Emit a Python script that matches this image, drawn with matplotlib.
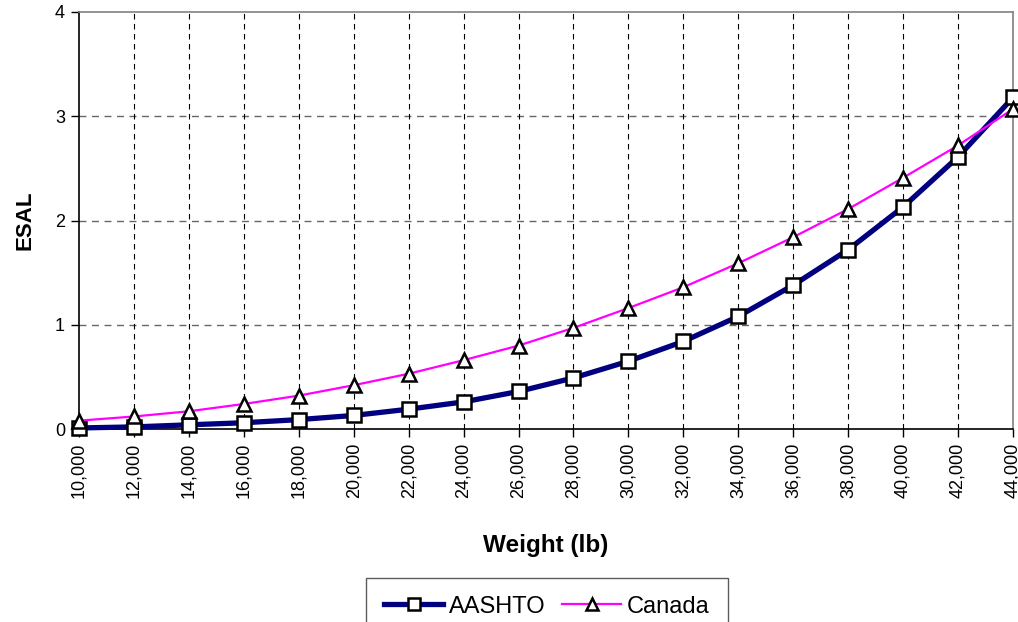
import matplotlib
matplotlib.use("Agg")
import matplotlib.pyplot as plt
from matplotlib.ticker import FuncFormatter, MultipleLocator

plt.rcParams['font.family'] = ['Liberation Sans', 'DejaVu Sans']

weights = [10000, 12000, 14000, 16000, 18000, 20000, 22000, 24000, 26000,
           28000, 30000, 32000, 34000, 36000, 38000, 40000, 42000, 44000]
aashto = [0.01, 0.02, 0.04, 0.06, 0.09, 0.13, 0.19, 0.26, 0.36,
          0.49, 0.65, 0.84, 1.08, 1.38, 1.72, 2.13, 2.61, 3.18]
canada = [0.08, 0.12, 0.17, 0.24, 0.32, 0.42, 0.53, 0.66, 0.80,
          0.97, 1.16, 1.36, 1.59, 1.84, 2.11, 2.41, 2.72, 3.07]

fig = plt.figure(figsize=(10.18, 6.22), dpi=100)
ax = fig.add_axes([79/1018, 1-429/622, (1013-79)/1018, (429-12)/622])

ax.plot(weights, aashto, color='#000080', lw=3.8, marker='s', ms=10,
        mfc='white', mec='black', mew=1.8, label='AASHTO', zorder=3, clip_on=False)
ax.plot(weights, canada, color='#FF00FF', lw=1.6, marker='^', ms=10,
        mfc='white', mec='black', mew=1.8, label='Canada', zorder=4, clip_on=False)

ax.set_xlim(10000, 44000)
ax.set_ylim(0, 4)
ax.xaxis.set_major_locator(MultipleLocator(2000))
ax.yaxis.set_major_locator(MultipleLocator(1))
ax.xaxis.set_major_formatter(FuncFormatter(lambda v, p: f"{int(round(v)):,}"))
ax.tick_params(axis='x', labelrotation=90, labelsize=13, length=6, width=1, direction='out', pad=4)
ax.tick_params(axis='y', labelsize=13, length=6, width=1, direction='out', pad=4)

for y in [1, 2, 3]:
    ax.axhline(y, color='#666666', lw=1, ls=(0, (5, 4)), zorder=1)
for x in weights[1:-1]:
    ax.axvline(x, color='black', lw=0.8, ls=(0, (5, 4)), zorder=1)

ax.spines['left'].set_color('black')
ax.spines['bottom'].set_color('black')
ax.spines['top'].set_color('#808080')
ax.spines['right'].set_color('#808080')
for s in ax.spines.values():
    s.set_linewidth(1.2)

ax.set_xlabel('Weight (lb)', fontsize=17.5, fontweight='bold', labelpad=26)
ax.set_ylabel('ESAL', fontsize=16, fontweight='bold', labelpad=14)

leg = fig.legend(loc='upper center', bbox_to_anchor=(547/1018, 1-578/622), ncol=2,
                 fontsize=17, frameon=True, fancybox=False, edgecolor='#333333',
                 handlelength=2.5, handletextpad=0.25, columnspacing=0.7,
                 borderpad=0.75, borderaxespad=0, markerscale=0.85)
leg.get_frame().set_linewidth(1.0)

fig.savefig('out.png', dpi=100)
